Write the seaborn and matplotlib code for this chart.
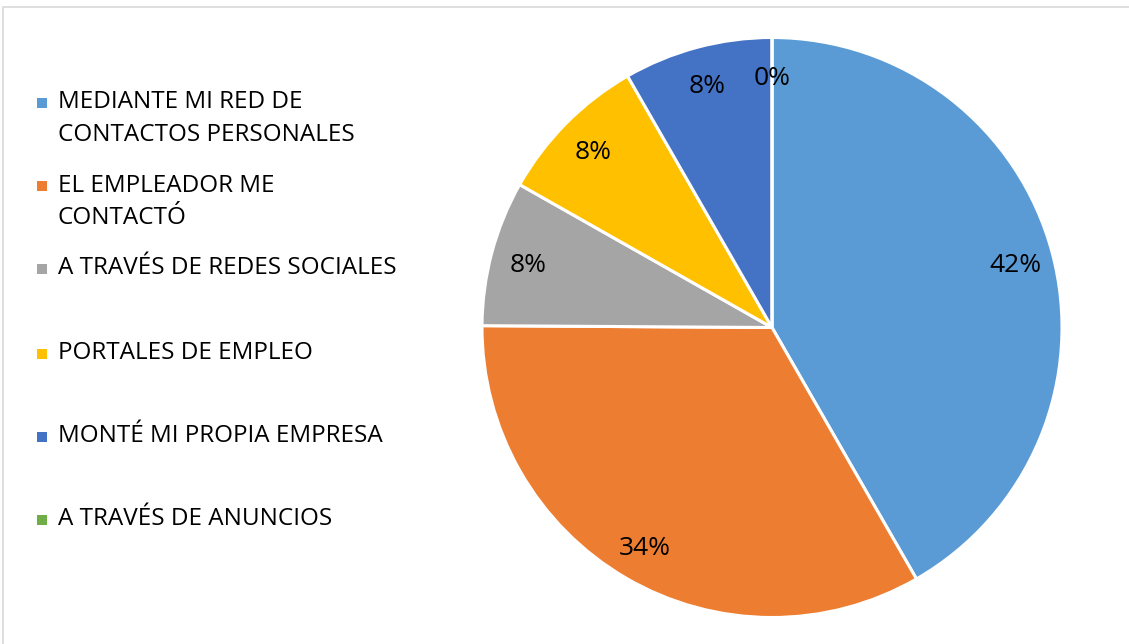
import matplotlib.pyplot as plt
from matplotlib.patches import Rectangle
import seaborn as sns

# data
labels = ["MEDIANTE MI RED DE\nCONTACTOS PERSONALES",
          "EL EMPLEADOR ME\nCONTACTÓ",
          "A TRAVÉS DE REDES SOCIALES",
          "PORTALES DE EMPLEO",
          "MONTÉ MI PROPIA EMPRESA",
          "A TRAVÉS DE ANUNCIOS"]
# slice sizes measured from the wedge angles
shares = [41.7, 33.4, 8.1, 8.5, 8.3, 0.0]
# percentages as printed on the chart
pct_labels = ["42%", "34%", "8%", "8%", "8%", "0%"]
colors = ["#5B9BD5", "#ED7D31", "#A5A5A5", "#FFC000", "#4472C4", "#70AD47"]

sns.set_style("white")
plt.rcParams["font.family"] = ["Open Sans", "DejaVu Sans"]

W, H = 1129, 644
fig = plt.figure(figsize=(W / 100, H / 100), dpi=100)

# pie centred at about (772, 327) px, radius ~290 px
cx, cy, r = 772, 327.5, 290
ax = fig.add_axes([(cx - r) / W, (H - cy - r) / H, 2 * r / W, 2 * r / H])
wedges, texts, autotexts = ax.pie(
    shares, colors=colors, startangle=90, counterclock=False,
    autopct="%.0f%%", pctdistance=0.87,
    wedgeprops=dict(edgecolor="white", linewidth=2.2),
    textprops=dict(fontsize=19, color="black"))
for t, s in zip(autotexts, pct_labels):
    t.set_text(s)
    t.set_va("center_baseline")
ax.set_xlim(-1, 1)
ax.set_ylim(-1, 1)
ax.set_aspect("equal")
ax.axis("off")

# legend, laid out like the Excel one
legend_y = [118.75, 202, 268, 353, 436, 519]
for lab, col, y in zip(labels, colors, legend_y):
    first_line_y = y - 17.25 * lab.count("\n")
    fig.add_artist(Rectangle((37 / W, (H - first_line_y - 6) / H), 10 / W, 10 / H,
                             transform=fig.transFigure, facecolor=col, edgecolor="none"))
    fig.text(58 / W, (H - y) / H, lab, fontsize=17.5, va="center", ha="left",
             linespacing=1.48, color="black")

# chart area border (top and left visible)
fig.add_artist(Rectangle((3 / W, -0.1), 1.2, (H - 7) / H + 0.1, transform=fig.transFigure,
                         facecolor="none", edgecolor="#D9D9D9", linewidth=1.2))

fig.savefig("out.png", dpi=100)
